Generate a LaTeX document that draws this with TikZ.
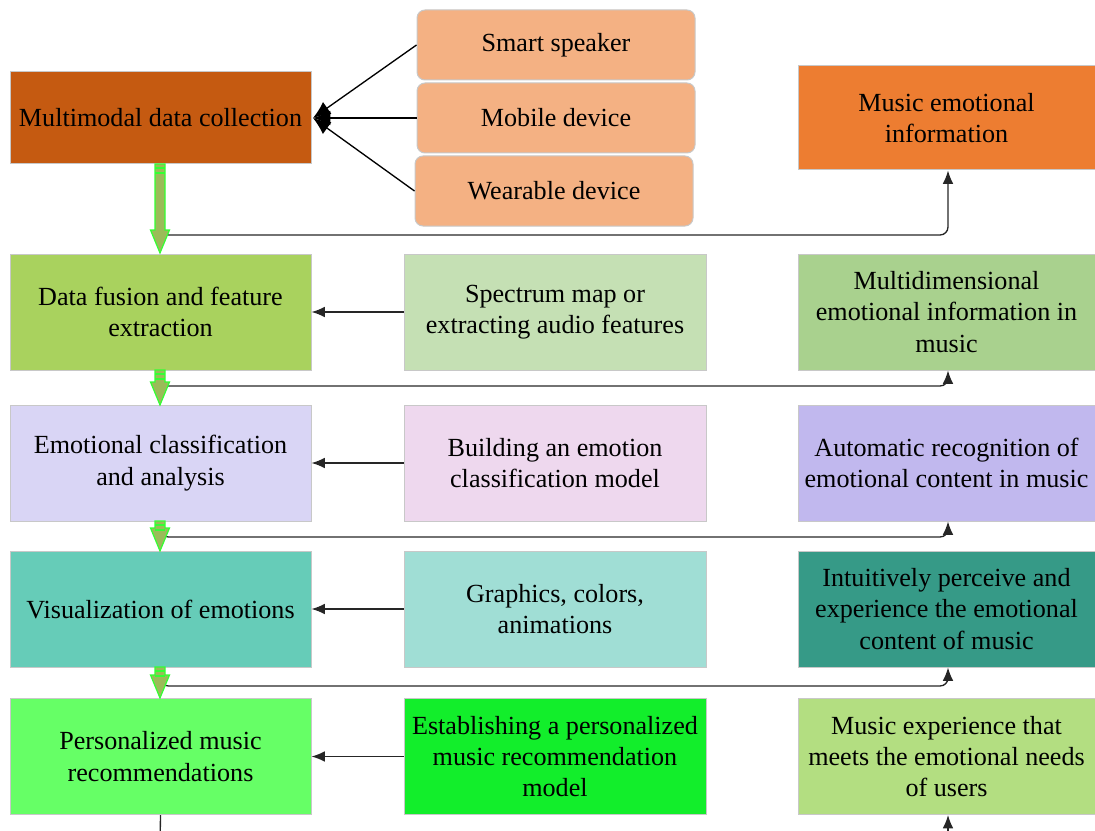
\documentclass[tikz,border=0pt]{standalone}
\usepackage{fontspec}
\setmainfont{Liberation Serif}
\newfontfamily\boxfont{Liberation Serif}
\usetikzlibrary{arrows.meta}
\definecolor{cL1}{HTML}{C55A11}
\definecolor{cDev}{HTML}{F4B183}
\definecolor{cR1}{HTML}{ED7D31}
\definecolor{cL2}{HTML}{A9D25E}
\definecolor{cM2}{HTML}{C5E0B4}
\definecolor{cR2}{HTML}{A9D18E}
\definecolor{cL3}{HTML}{D9D5F5}
\definecolor{cM3}{HTML}{EED8EE}
\definecolor{cR3}{HTML}{C1B8EE}
\definecolor{cL4}{HTML}{66CCB8}
\definecolor{cM4}{HTML}{A0DED5}
\definecolor{cR4}{HTML}{369A87}
\definecolor{cL5}{HTML}{66FF66}
\definecolor{cM5}{HTML}{12EE2B}
\definecolor{cR5}{HTML}{B3DE81}
\definecolor{bord}{HTML}{C8C8C8}
\definecolor{arrFill}{HTML}{9BBB59}
\definecolor{arrLine}{HTML}{33FF33}
\tikzset{
  box/.style={draw=bord, line width=0.75pt, inner sep=2pt, align=center,
    font=\boxfont\fontsize{19.6}{23.5}\selectfont},
  dev/.style={box, fill=cDev, rounded corners=6pt, minimum width=278*0.75pt, minimum height=70*0.75pt},
  lbox/.style={box, minimum width=301*0.75pt, minimum height=116*0.75pt},
  mbox/.style={box, minimum width=302*0.75pt, minimum height=116*0.75pt},
  rbox/.style={box, minimum width=297*0.75pt, minimum height=116*0.75pt},
  conn/.style={draw=black!85, line width=1pt, rounded corners=6pt},
  tip/.style={-{Latex[length=10pt,width=8pt]}},
  garrow/.style={fill=arrFill, draw=arrLine, line width=0.9pt},
}
\begin{document}
\begin{tikzpicture}[x=0.75pt,y=-0.75pt]
\useasboundingbox (0,0) rectangle (1095,831);
\clip (0,0) rectangle (1095,831);
% row 1
\node[lbox, fill=cL1, minimum height=92*0.75pt] (L1) at (160.5,118) {Multimodal data collection};
\node[dev] (D1) at (556,45) {Smart speaker};
\node[dev] (D2) at (556,118) {Mobile device};
\node[dev] (D3) at (554,191) {Wearable device};
\node[rbox, fill=cR1, minimum height=104*0.75pt] (R1) at (946.5,118) {Music emotional\\information};
% row 2
\node[lbox, fill=cL2] (L2) at (160.5,312) {Data fusion and feature\\extraction};
\node[mbox, fill=cM2] (M2) at (555,312) {Spectrum map or\\extracting audio features};
\node[rbox, fill=cR2] (R2) at (946.5,312) {Multidimensional\\emotional information in\\music};
% row 3
\node[lbox, fill=cL3] (L3) at (160.5,463) {Emotional classification\\and analysis};
\node[mbox, fill=cM3] (M3) at (555,463) {Building an emotion\\classification model};
\node[rbox, fill=cR3] (R3) at (946.5,463) {Automatic recognition of\\emotional content in music};
% row 4
\node[lbox, fill=cL4] (L4) at (160.5,609) {Visualization of emotions};
\node[mbox, fill=cM4] (M4) at (555,609) {Graphics, colors,\\animations};
\node[rbox, fill=cR4] (R4) at (946.5,609) {Intuitively perceive and\\experience the emotional\\content of music};
% row 5
\node[lbox, fill=cL5] (L5) at (160.5,756.5) {Personalized music\\recommendations};
\node[mbox, fill=cM5] (M5) at (555,756.5) {Establishing a personalized\\music recommendation\\model};
\node[rbox, fill=cR5] (R5) at (946.5,756.5) {Music experience that\\meets the emotional needs\\of users};

% device connectors
\coordinate (J) at (313,118);
\foreach \d in {D1,D2,D3} {
  \draw[line width=1pt, -{Latex[length=13pt,width=11pt]}] (\d.west) -- (J);
}
% middle to left arrows
\draw[conn, tip] (M2.west) -- (L2.east);
\draw[conn, tip] (M3.west) -- (L3.east);
\draw[conn, tip] (M4.west) -- (L4.east);
\draw[conn, tip] (M5.west) -- (L5.east);
% left to right connectors
\draw[conn, tip] (L1.south) |- (948,235) -- (R1.south -| 948,0);
\draw[conn, tip] (L2.south) |- (948,386) -- (R2.south -| 948,0);
\draw[conn, tip] (L3.south) |- (948,537) -- (R3.south -| 948,0);
\draw[conn, tip] (L4.south) |- (948,686) -- (R4.south -| 948,0);
\coordinate (bL) at (160,850);
\coordinate (bR) at (948,850);
\draw[conn] (L5.south) -- (bL);
\draw[conn, tip] (bR) -- (R5.south -| 948,0);
% green block arrows
\foreach \a/\b/\top/\bot in {L1/L2/164/253, L2/L3/370/405, L3/L4/521/551, L4/L5/667/698} {
  \pgfmathsetmacro{\hb}{\bot-23}
  \draw[garrow] (155,\top) -- (155,\hb) -- (150.5,\hb) -- (160,\bot) -- (169.5,\hb) -- (165,\hb) -- (165,\top) -- cycle;
  \draw[arrLine, line width=0.9pt] (155,\top+4) -- (165,\top+4);
  \draw[arrLine, line width=0.9pt] (155,\top+9) -- (165,\top+9);
}
\end{tikzpicture}
\end{document}
